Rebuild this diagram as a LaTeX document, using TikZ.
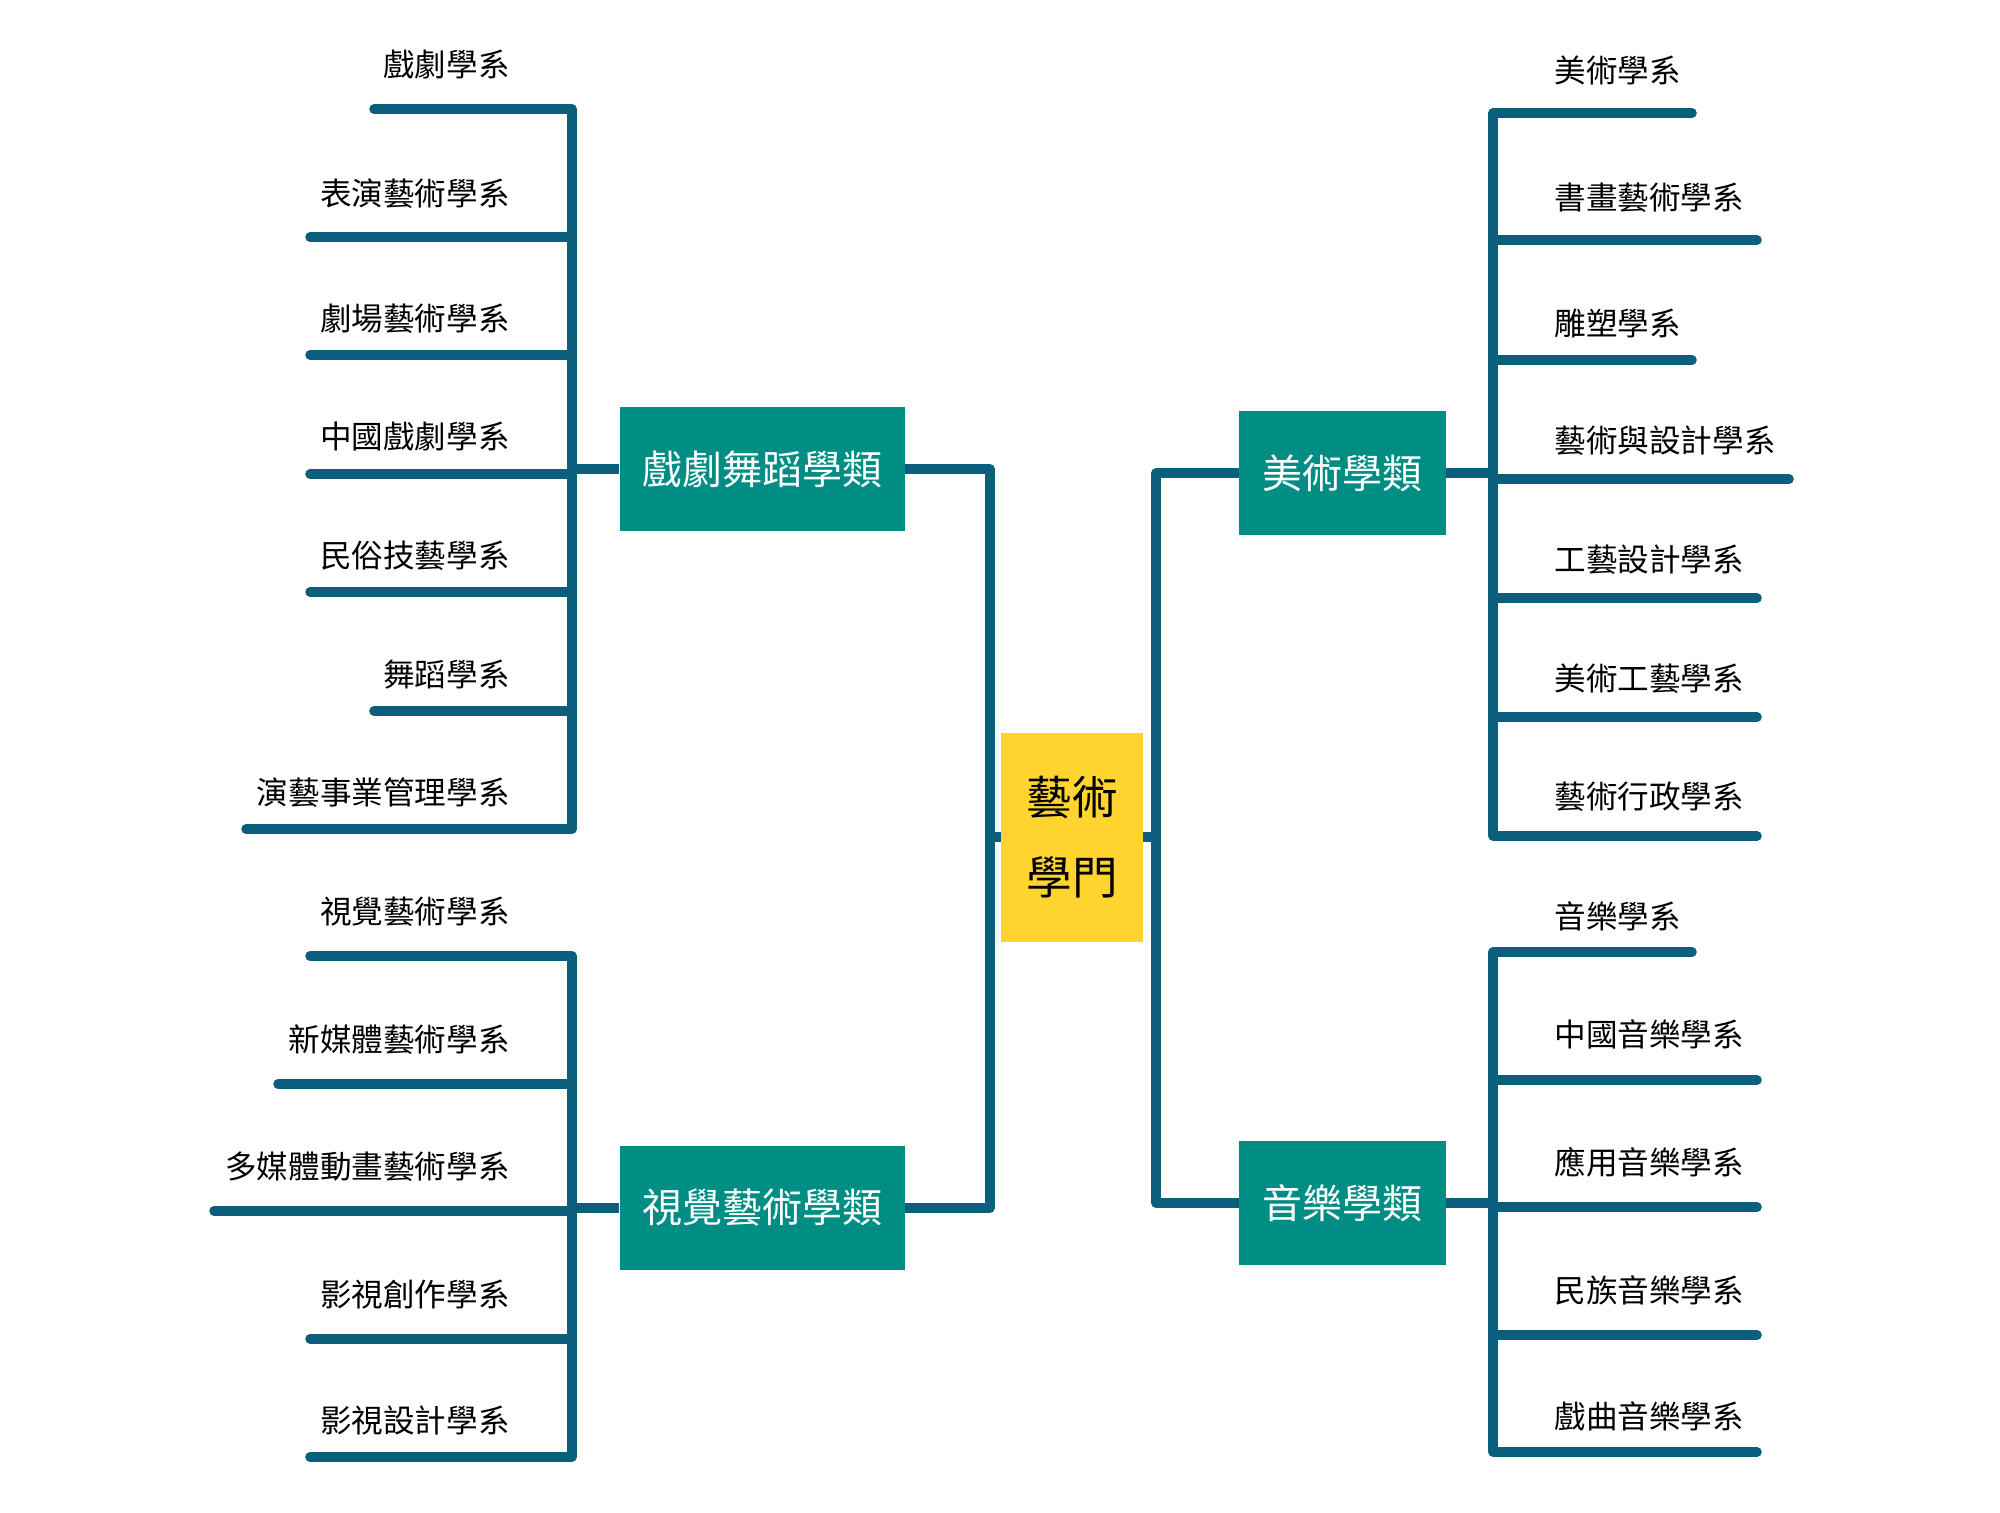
\documentclass[tikz,border=0pt]{standalone}
\usepackage{fontspec}
\setmainfont{Noto Sans CJK TC}
\definecolor{ln}{HTML}{0B5F7D}
\definecolor{cat}{HTML}{008E84}
\definecolor{core}{HTML}{FFD42F}
\begin{document}
\begin{tikzpicture}[x=0.5pt,y=-0.5pt,
 branch/.style={draw=ln,line width=4.8pt,line cap=round,line join=round},
 joint/.style={draw=ln,line width=4.8pt,line cap=butt,line join=round},
 catbox/.style={fill=cat,text=white,minimum height=62pt,inner sep=0pt,font=\fontsize{20}{24}\selectfont},
 widecat/.style={catbox,minimum width=142.5pt},
 narrowcat/.style={catbox,minimum width=103.5pt},
 corebox/.style={fill=core,text=black,minimum width=71pt,minimum height=104.5pt,inner sep=0pt,align=center,font=\fontsize{22.8}{40}\selectfont},
 lleaf/.style={anchor=east,inner sep=0pt,font=\fontsize{15.8}{18}\selectfont},
 rleaf/.style={anchor=west,inner sep=0pt,font=\fontsize{15.8}{18}\selectfont}]
\useasboundingbox (0,0) rectangle (2000,1512);
% main nodes
\node[corebox] (core) at (1072,837) {藝術\\學門};
\node[widecat] (drama) at (762,469) {戲劇舞蹈學類};
\node[widecat] (visual) at (762,1208) {視覺藝術學類};
\node[narrowcat] (fine) at (1342.5,473) {美術學類};
\node[narrowcat] (music) at (1342.5,1203) {音樂學類};
% trunk coordinates
\coordinate (ltrunk) at (990,837);
\coordinate (rtrunk) at (1156,837);
\coordinate (lv) at (572,0);
\coordinate (rv) at (1493,0);
% central trunks
\draw[joint] (drama.east) -| (ltrunk) |- (visual.east);
\draw[joint] (fine.west) -| (rtrunk) |- (music.west);
\draw[joint] (core.west) -- (ltrunk);
\draw[joint] (core.east) -- (rtrunk);
% drama group
\foreach \i/\y/\ty/\xl/\t in {1/109/65/374/戲劇學系,2/237/194/310/表演藝術學系,3/355/319/310/劇場藝術學系,4/474/437/310/中國戲劇學系,5/592/556/310/民俗技藝學系,6/711/675/374/舞蹈學系,7/829/793/246/演藝事業管理學系}{
  \coordinate (d\i) at (\xl,\y);
  \node[lleaf] (d\i t) at (510,\ty) {\t};
}
\draw[branch] (d1) -- (d1 -| lv) -- (d7 -| lv) -- (d7);
\foreach \i in {2,...,6}{\draw[branch] (d\i) -- (d\i -| lv);}
\draw[joint] (drama.west) -- (drama.west -| lv);
% visual group
\foreach \i/\y/\ty/\xl/\t in {1/956/912/310/視覺藝術學系,2/1084/1040/278/新媒體藝術學系,3/1211/1167/214/多媒體動畫藝術學系,4/1339/1295/310/影視創作學系,5/1457/1420/310/影視設計學系}{
  \coordinate (v\i) at (\xl,\y);
  \node[lleaf] (v\i t) at (510,\ty) {\t};
}
\draw[branch] (v1) -- (v1 -| lv) -- (v5 -| lv) -- (v5);
\foreach \i in {2,...,4}{\draw[branch] (v\i) -- (v\i -| lv);}
\draw[joint] (visual.west) -- (visual.west -| lv);
% fine arts group
\foreach \i/\y/\ty/\xr/\t in {1/113/70/1692/美術學系,2/240/198/1757/書畫藝術學系,3/360/323/1692/雕塑學系,4/479/441/1789/藝術與設計學系,5/598/560/1757/工藝設計學系,6/717/679/1757/美術工藝學系,7/836/797/1757/藝術行政學系}{
  \coordinate (f\i) at (\xr,\y);
  \node[rleaf] (f\i t) at (1554,\ty) {\t};
}
\draw[branch] (f1) -- (f1 -| rv) -- (f7 -| rv) -- (f7);
\foreach \i in {2,...,6}{\draw[branch] (f\i) -- (f\i -| rv);}
\draw[joint] (fine.east) -- (fine.east -| rv);
% music group
\foreach \i/\y/\ty/\xr/\t in {1/952/916/1692/音樂學系,2/1080/1034/1757/中國音樂學系,3/1207/1162/1757/應用音樂學系,4/1335/1290/1757/民族音樂學系,5/1452/1416/1757/戲曲音樂學系}{
  \coordinate (m\i) at (\xr,\y);
  \node[rleaf] (m\i t) at (1554,\ty) {\t};
}
\draw[branch] (m1) -- (m1 -| rv) -- (m5 -| rv) -- (m5);
\foreach \i in {2,...,4}{\draw[branch] (m\i) -- (m\i -| rv);}
\draw[joint] (music.east) -- (music.east -| rv);
\end{tikzpicture}
\end{document}
